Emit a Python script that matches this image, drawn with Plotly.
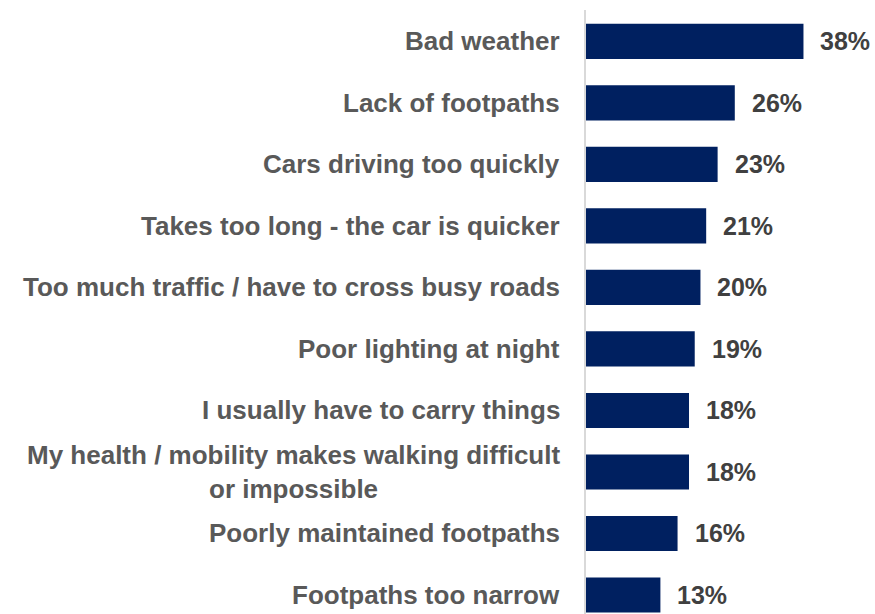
import plotly.graph_objects as go

categories = [
    "Bad weather",
    "Lack of footpaths",
    "Cars driving too quickly",
    "Takes too long - the car is quicker",
    "Too much traffic / have to cross busy roads",
    "Poor lighting at night",
    "I usually have to carry things",
    "My health / mobility makes walking difficult<br>or impossible",
    "Poorly maintained footpaths",
    "Footpaths too narrow",
]
values = [38, 26, 23, 21, 20, 19, 18, 18, 16, 13]
value_labels = [f"{v}%" for v in values]

positions = list(range(len(categories)))

fig = go.Figure()
fig.add_trace(go.Bar(
    x=values,
    y=positions,
    orientation="h",
    width=0.57,
    marker=dict(color="#002060", line=dict(width=0)),
    hoverinfo="skip",
))

font_family = "Liberation Sans, Arial, sans-serif"
annotations = []
for i, (cat, v, lab) in enumerate(zip(categories, values, value_labels)):
    cat_text = "<b>" + cat.replace("<br>", "</b><br><b>") + "</b>"
    annotations.append(dict(
        x=0, y=i, xref="x", yref="y", text=cat_text, showarrow=False,
        xanchor="right", yanchor="middle", align="center", xshift=-24,
        font=dict(family=font_family, size=26, color="#595959"),
    ))
    annotations.append(dict(
        x=v, y=i, xref="x", yref="y", text="<b>" + lab + "</b>", showarrow=False,
        xanchor="left", yanchor="middle", xshift=15,
        font=dict(family=font_family, size=25, color="#404040"),
    ))

fig.update_layout(
    width=875, height=614,
    margin=dict(l=586, r=0, t=10, b=0),
    paper_bgcolor="white", plot_bgcolor="white",
    showlegend=False,
    annotations=annotations,
    xaxis=dict(range=[0, 50.5], showgrid=False, zeroline=False, showticklabels=False, showline=False),
    yaxis=dict(range=[9.31, -0.51], showgrid=False, zeroline=False, showticklabels=False,
               showline=True, linecolor="#d9d9d9", linewidth=2, ticks=""),
)

fig.write_html("out.html")
